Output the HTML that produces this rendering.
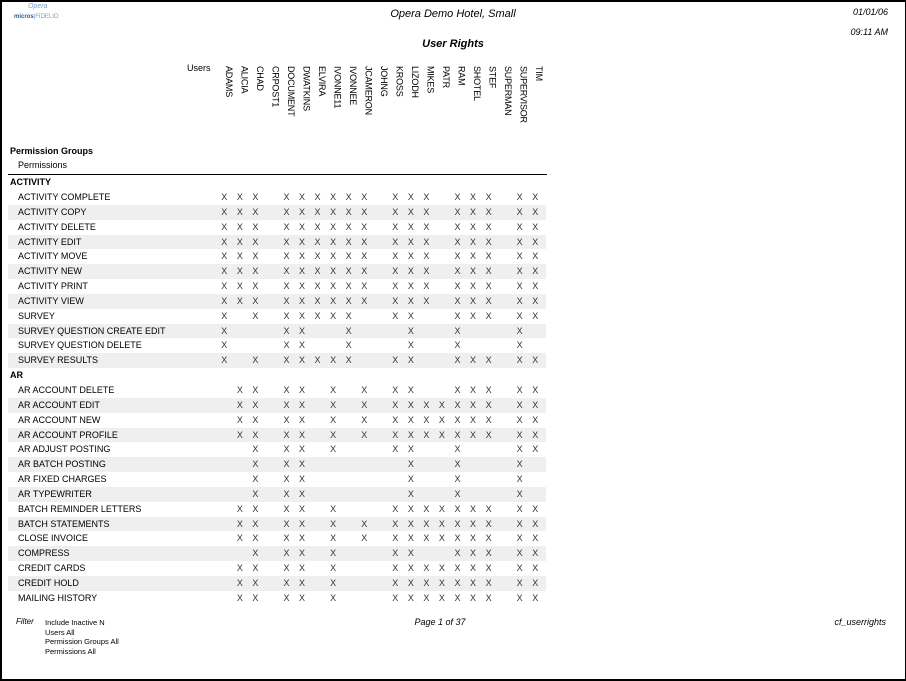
<!DOCTYPE html>
<html><head><meta charset="utf-8"><style>
*{margin:0;padding:0;box-sizing:border-box}
body{width:906px;height:681px;background:#fff;font-family:"Liberation Sans",Arial,sans-serif;color:#000;position:relative;overflow:hidden}
#frame{position:absolute;left:0;top:0;width:906px;height:681px;border:2px solid #000;border-right-width:1px}
.a{position:absolute;white-space:nowrap}
.it{font-style:italic}
.uh{position:absolute;top:66px;writing-mode:vertical-rl;font-size:9px;line-height:9px;letter-spacing:-0.2px}
#list{position:absolute;left:8px;top:175.2px;width:538px}
.r{height:14.85px;position:relative;font-size:9px;line-height:14.85px}
.r.s{background:#efefef}
.r .n{position:absolute;left:10px}
.r.g .n{left:2px;font-weight:bold}
.r .x{position:absolute;left:208.5px;top:0;display:flex}
.r .x i{display:inline-block;width:15.55px;text-align:center;font-style:normal;color:#333}
</style></head><body>
<div id="frame"></div>
<div class="a it" style="left:28px;top:3px;font-size:7px;color:#7a9ccc">Opera</div>
<div class="a" style="left:14px;top:14px;font-size:6px;font-weight:bold;color:#2a5a9a">micros<span style="font-weight:normal;color:#7a9ccc">|FIDELIO</span></div>
<div class="a it" style="left:370px;top:8px;font-size:11px;width:166px;text-align:center">Opera Demo Hotel, Small</div>
<div class="a it" style="left:840px;top:7px;font-size:9px;width:48px;text-align:right">01/01/06</div>
<div class="a it" style="left:840px;top:27px;font-size:9px;width:48px;text-align:right">09:11 AM</div>
<div class="a it" style="left:370px;top:38px;font-size:11px;font-weight:bold;width:166px;text-align:center">User Rights</div>
<div class="a" style="left:187px;top:63px;font-size:9px">Users</div>
<div class="uh" style="left:224px">ADAMS</div>
<div class="uh" style="left:239.5px">ALICIA</div>
<div class="uh" style="left:255px">CHAD</div>
<div class="uh" style="left:270.5px">CRPOST1</div>
<div class="uh" style="left:286px">DOCUMENT</div>
<div class="uh" style="left:301.5px">DWATKINS</div>
<div class="uh" style="left:317px">ELVIRA</div>
<div class="uh" style="left:332.5px">IVONNE11</div>
<div class="uh" style="left:348px">IVONNEE</div>
<div class="uh" style="left:363.5px">JCAMERON</div>
<div class="uh" style="left:379px">JOHNG</div>
<div class="uh" style="left:394.5px">KROSS</div>
<div class="uh" style="left:410px">LIZODH</div>
<div class="uh" style="left:425.5px">MIKES</div>
<div class="uh" style="left:441px">PATR</div>
<div class="uh" style="left:456.5px">RAM</div>
<div class="uh" style="left:472px">SHOTEL</div>
<div class="uh" style="left:487.5px">STEF</div>
<div class="uh" style="left:503px">SUPERMAN</div>
<div class="uh" style="left:518.5px">SUPERVISOR</div>
<div class="uh" style="left:534px">TIM</div>
<div class="a" style="left:10px;top:146px;font-size:9px;font-weight:bold">Permission Groups</div>
<div class="a" style="left:18px;top:160px;font-size:9px">Permissions</div>
<div class="a" style="left:8px;top:174px;width:539px;height:1px;background:#000"></div>
<div id="list">
<div class="r g"><span class="n">ACTIVITY</span></div>
<div class="r"><span class="n">ACTIVITY COMPLETE</span><span class="x"><i>X</i><i>X</i><i>X</i><i></i><i>X</i><i>X</i><i>X</i><i>X</i><i>X</i><i>X</i><i></i><i>X</i><i>X</i><i>X</i><i></i><i>X</i><i>X</i><i>X</i><i></i><i>X</i><i>X</i></span></div>
<div class="r s"><span class="n">ACTIVITY COPY</span><span class="x"><i>X</i><i>X</i><i>X</i><i></i><i>X</i><i>X</i><i>X</i><i>X</i><i>X</i><i>X</i><i></i><i>X</i><i>X</i><i>X</i><i></i><i>X</i><i>X</i><i>X</i><i></i><i>X</i><i>X</i></span></div>
<div class="r"><span class="n">ACTIVITY DELETE</span><span class="x"><i>X</i><i>X</i><i>X</i><i></i><i>X</i><i>X</i><i>X</i><i>X</i><i>X</i><i>X</i><i></i><i>X</i><i>X</i><i>X</i><i></i><i>X</i><i>X</i><i>X</i><i></i><i>X</i><i>X</i></span></div>
<div class="r s"><span class="n">ACTIVITY EDIT</span><span class="x"><i>X</i><i>X</i><i>X</i><i></i><i>X</i><i>X</i><i>X</i><i>X</i><i>X</i><i>X</i><i></i><i>X</i><i>X</i><i>X</i><i></i><i>X</i><i>X</i><i>X</i><i></i><i>X</i><i>X</i></span></div>
<div class="r"><span class="n">ACTIVITY MOVE</span><span class="x"><i>X</i><i>X</i><i>X</i><i></i><i>X</i><i>X</i><i>X</i><i>X</i><i>X</i><i>X</i><i></i><i>X</i><i>X</i><i>X</i><i></i><i>X</i><i>X</i><i>X</i><i></i><i>X</i><i>X</i></span></div>
<div class="r s"><span class="n">ACTIVITY NEW</span><span class="x"><i>X</i><i>X</i><i>X</i><i></i><i>X</i><i>X</i><i>X</i><i>X</i><i>X</i><i>X</i><i></i><i>X</i><i>X</i><i>X</i><i></i><i>X</i><i>X</i><i>X</i><i></i><i>X</i><i>X</i></span></div>
<div class="r"><span class="n">ACTIVITY PRINT</span><span class="x"><i>X</i><i>X</i><i>X</i><i></i><i>X</i><i>X</i><i>X</i><i>X</i><i>X</i><i>X</i><i></i><i>X</i><i>X</i><i>X</i><i></i><i>X</i><i>X</i><i>X</i><i></i><i>X</i><i>X</i></span></div>
<div class="r s"><span class="n">ACTIVITY VIEW</span><span class="x"><i>X</i><i>X</i><i>X</i><i></i><i>X</i><i>X</i><i>X</i><i>X</i><i>X</i><i>X</i><i></i><i>X</i><i>X</i><i>X</i><i></i><i>X</i><i>X</i><i>X</i><i></i><i>X</i><i>X</i></span></div>
<div class="r"><span class="n">SURVEY</span><span class="x"><i>X</i><i></i><i>X</i><i></i><i>X</i><i>X</i><i>X</i><i>X</i><i>X</i><i></i><i></i><i>X</i><i>X</i><i></i><i></i><i>X</i><i>X</i><i>X</i><i></i><i>X</i><i>X</i></span></div>
<div class="r s"><span class="n">SURVEY QUESTION CREATE EDIT</span><span class="x"><i>X</i><i></i><i></i><i></i><i>X</i><i>X</i><i></i><i></i><i>X</i><i></i><i></i><i></i><i>X</i><i></i><i></i><i>X</i><i></i><i></i><i></i><i>X</i><i></i></span></div>
<div class="r"><span class="n">SURVEY QUESTION DELETE</span><span class="x"><i>X</i><i></i><i></i><i></i><i>X</i><i>X</i><i></i><i></i><i>X</i><i></i><i></i><i></i><i>X</i><i></i><i></i><i>X</i><i></i><i></i><i></i><i>X</i><i></i></span></div>
<div class="r s"><span class="n">SURVEY RESULTS</span><span class="x"><i>X</i><i></i><i>X</i><i></i><i>X</i><i>X</i><i>X</i><i>X</i><i>X</i><i></i><i></i><i>X</i><i>X</i><i></i><i></i><i>X</i><i>X</i><i>X</i><i></i><i>X</i><i>X</i></span></div>
<div class="r g"><span class="n">AR</span></div>
<div class="r"><span class="n">AR ACCOUNT DELETE</span><span class="x"><i></i><i>X</i><i>X</i><i></i><i>X</i><i>X</i><i></i><i>X</i><i></i><i>X</i><i></i><i>X</i><i>X</i><i></i><i></i><i>X</i><i>X</i><i>X</i><i></i><i>X</i><i>X</i></span></div>
<div class="r s"><span class="n">AR ACCOUNT EDIT</span><span class="x"><i></i><i>X</i><i>X</i><i></i><i>X</i><i>X</i><i></i><i>X</i><i></i><i>X</i><i></i><i>X</i><i>X</i><i>X</i><i>X</i><i>X</i><i>X</i><i>X</i><i></i><i>X</i><i>X</i></span></div>
<div class="r"><span class="n">AR ACCOUNT NEW</span><span class="x"><i></i><i>X</i><i>X</i><i></i><i>X</i><i>X</i><i></i><i>X</i><i></i><i>X</i><i></i><i>X</i><i>X</i><i>X</i><i>X</i><i>X</i><i>X</i><i>X</i><i></i><i>X</i><i>X</i></span></div>
<div class="r s"><span class="n">AR ACCOUNT PROFILE</span><span class="x"><i></i><i>X</i><i>X</i><i></i><i>X</i><i>X</i><i></i><i>X</i><i></i><i>X</i><i></i><i>X</i><i>X</i><i>X</i><i>X</i><i>X</i><i>X</i><i>X</i><i></i><i>X</i><i>X</i></span></div>
<div class="r"><span class="n">AR ADJUST POSTING</span><span class="x"><i></i><i></i><i>X</i><i></i><i>X</i><i>X</i><i></i><i>X</i><i></i><i></i><i></i><i>X</i><i>X</i><i></i><i></i><i>X</i><i></i><i></i><i></i><i>X</i><i>X</i></span></div>
<div class="r s"><span class="n">AR BATCH POSTING</span><span class="x"><i></i><i></i><i>X</i><i></i><i>X</i><i>X</i><i></i><i></i><i></i><i></i><i></i><i></i><i>X</i><i></i><i></i><i>X</i><i></i><i></i><i></i><i>X</i><i></i></span></div>
<div class="r"><span class="n">AR FIXED CHARGES</span><span class="x"><i></i><i></i><i>X</i><i></i><i>X</i><i>X</i><i></i><i></i><i></i><i></i><i></i><i></i><i>X</i><i></i><i></i><i>X</i><i></i><i></i><i></i><i>X</i><i></i></span></div>
<div class="r s"><span class="n">AR TYPEWRITER</span><span class="x"><i></i><i></i><i>X</i><i></i><i>X</i><i>X</i><i></i><i></i><i></i><i></i><i></i><i></i><i>X</i><i></i><i></i><i>X</i><i></i><i></i><i></i><i>X</i><i></i></span></div>
<div class="r"><span class="n">BATCH REMINDER LETTERS</span><span class="x"><i></i><i>X</i><i>X</i><i></i><i>X</i><i>X</i><i></i><i>X</i><i></i><i></i><i></i><i>X</i><i>X</i><i>X</i><i>X</i><i>X</i><i>X</i><i>X</i><i></i><i>X</i><i>X</i></span></div>
<div class="r s"><span class="n">BATCH STATEMENTS</span><span class="x"><i></i><i>X</i><i>X</i><i></i><i>X</i><i>X</i><i></i><i>X</i><i></i><i>X</i><i></i><i>X</i><i>X</i><i>X</i><i>X</i><i>X</i><i>X</i><i>X</i><i></i><i>X</i><i>X</i></span></div>
<div class="r"><span class="n">CLOSE INVOICE</span><span class="x"><i></i><i>X</i><i>X</i><i></i><i>X</i><i>X</i><i></i><i>X</i><i></i><i>X</i><i></i><i>X</i><i>X</i><i>X</i><i>X</i><i>X</i><i>X</i><i>X</i><i></i><i>X</i><i>X</i></span></div>
<div class="r s"><span class="n">COMPRESS</span><span class="x"><i></i><i></i><i>X</i><i></i><i>X</i><i>X</i><i></i><i>X</i><i></i><i></i><i></i><i>X</i><i>X</i><i></i><i></i><i>X</i><i>X</i><i>X</i><i></i><i>X</i><i>X</i></span></div>
<div class="r"><span class="n">CREDIT CARDS</span><span class="x"><i></i><i>X</i><i>X</i><i></i><i>X</i><i>X</i><i></i><i>X</i><i></i><i></i><i></i><i>X</i><i>X</i><i>X</i><i>X</i><i>X</i><i>X</i><i>X</i><i></i><i>X</i><i>X</i></span></div>
<div class="r s"><span class="n">CREDIT HOLD</span><span class="x"><i></i><i>X</i><i>X</i><i></i><i>X</i><i>X</i><i></i><i>X</i><i></i><i></i><i></i><i>X</i><i>X</i><i>X</i><i>X</i><i>X</i><i>X</i><i>X</i><i></i><i>X</i><i>X</i></span></div>
<div class="r"><span class="n">MAILING HISTORY</span><span class="x"><i></i><i>X</i><i>X</i><i></i><i>X</i><i>X</i><i></i><i>X</i><i></i><i></i><i></i><i>X</i><i>X</i><i>X</i><i>X</i><i>X</i><i>X</i><i>X</i><i></i><i>X</i><i>X</i></span></div>
</div>
<div class="a it" style="left:16px;top:617px;font-size:8px">Filter</div>
<div class="a" style="left:45px;top:618px;font-size:7.5px;line-height:9.5px">Include Inactive N<br>Users All<br>Permission Groups All<br>Permissions All</div>
<div class="a it" style="left:390px;top:617px;font-size:9px;width:100px;text-align:center">Page 1 of 37</div>
<div class="a it" style="left:800px;top:617px;font-size:9px;width:86px;text-align:right">cf_userrights</div>
</body></html>
